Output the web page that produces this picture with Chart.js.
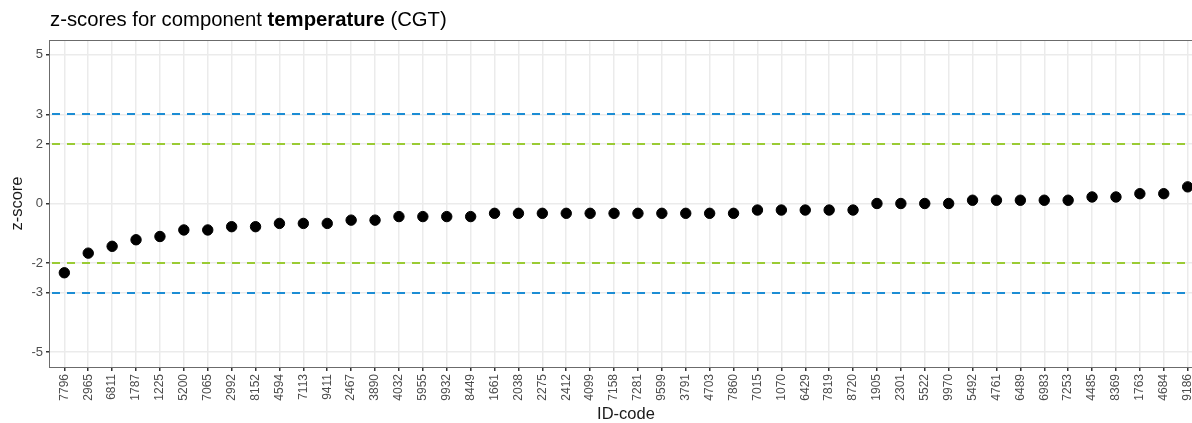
<!DOCTYPE html>
<html>
<head>
<meta charset="utf-8">
<script src="https://cdn.jsdelivr.net/npm/chart.js@4/dist/chart.umd.min.js"></script>
<style>
  html, body { margin: 0; padding: 0; background: #fff; overflow: hidden; }
  #wrap { position: relative; width: 1210px; height: 423px; }
  #title {
    position: absolute; left: 50px; top: 9px; line-height: 20px;
    font-family: "Liberation Sans", Arial, sans-serif; font-size: 20.3px; color: #000;
    white-space: nowrap;
  }
  canvas { position: absolute; left: 0; top: 0; }
</style>
</head>
<body>
<div id="wrap">
  <canvas id="c" width="1210" height="423"></canvas>
  <div id="title">z-scores for component <b>temperature</b> (CGT)</div>
</div>
<script>
// Participant ID codes, sorted by z-score
const idCodes = ["7796","2965","6811","1787","1225","5200","7065","2992","8152","4594",
  "7113","9411","2467","3890","4032","5955","9932","8449","1661","2038",
  "2275","2412","4099","7158","7281","9599","3791","4703","7860","7015",
  "1070","6429","7819","8720","1905","2301","5522","9970","5492","4761",
  "6489","6983","7253","4485","8369","1763","4684","9186"];

// z-score per participant
const zScores = [-2.33,-1.67,-1.44,-1.22,-1.11,-0.89,-0.89,-0.78,-0.78,-0.67,
  -0.67,-0.67,-0.56,-0.56,-0.44,-0.44,-0.44,-0.44,-0.33,-0.33,
  -0.33,-0.33,-0.33,-0.33,-0.33,-0.33,-0.33,-0.33,-0.33,-0.22,
  -0.22,-0.22,-0.22,-0.22,0,0,0,0,0.11,0.11,
  0.11,0.11,0.11,0.22,0.22,0.33,0.33,0.56];

// y-axis breaks
const yTicks = [-5, -3, -2, 0, 2, 3, 5];

// warning (|z| = 2) and action (|z| = 3) limits
const warningLimits = [-2, 2];
const actionLimits = [-3, 3];

const limitLines = {
  id: 'limitLines',
  beforeDatasetsDraw(chart) {
    const { ctx, chartArea: a, scales: { y } } = chart;
    ctx.save();
    ctx.lineWidth = 2;
    ctx.setLineDash([8, 7]);
    const draw = (vals, color) => {
      ctx.strokeStyle = color;
      vals.forEach(v => {
        const py = Math.round(y.getPixelForValue(v));
        ctx.beginPath();
        ctx.moveTo(a.left + 2, py);
        ctx.lineTo(a.right, py);
        ctx.stroke();
      });
    };
    draw(actionLimits, '#1c8dd4');
    draw(warningLimits, '#9acb34');
    ctx.restore();
  }
};

const panelBorder = {
  id: 'panelBorder',
  afterDraw(chart) {
    const { ctx, chartArea: a } = chart;
    ctx.save();
    ctx.strokeStyle = '#6b6b6b';
    ctx.lineWidth = 1;
    ctx.strokeRect(Math.round(a.left) - 0.5, Math.round(a.top) + 0.5,
      Math.round(a.right - a.left), Math.round(a.bottom - a.top));
    ctx.restore();
  }
};

const font = "'Liberation Sans', Arial, sans-serif";

new Chart(document.getElementById('c'), {
  type: 'scatter',
  data: {
    datasets: [{
      data: zScores.map((v, i) => ({ x: i, y: v })),
      backgroundColor: '#000',
      borderColor: '#000',
      pointRadius: 5.2,
      pointHoverRadius: 5.2
    }]
  },
  options: {
    responsive: false,
    animation: false,
    events: [],
    layout: { padding: { top: 40, right: 8, left: 0, bottom: 0 } },
    plugins: { legend: { display: false }, tooltip: { enabled: false }, title: { display: false } },
    scales: {
      x: {
        type: 'linear',
        min: -0.6,
        max: idCodes.length - 1 + 0.6,
        afterBuildTicks(axis) { axis.ticks = idCodes.map((_, i) => ({ value: i })); },
        afterFit(axis) { axis.height = 56; },
        ticks: {
          autoSkip: false,
          minRotation: 90,
          maxRotation: 90,
          padding: 3,
          color: '#4d4d4d',
          font: { family: font, size: 12 },
          callback: (v) => idCodes[v]
        },
        grid: { color: '#ebebeb', lineWidth: 1.5, tickColor: '#333', tickLength: 4, drawTicks: true },
        border: { display: false },
        title: { display: true, text: 'ID-code', color: '#1a1a1a', font: { family: font, size: 16.5, lineHeight: 1.0 }, padding: { top: 0, bottom: 0 } }
      },
      y: {
        min: -5.5,
        max: 5.5,
        afterBuildTicks(axis) { axis.ticks = yTicks.map(v => ({ value: v })); },
        afterFit(axis) { axis.width = 50; },
        ticks: { padding: 3, color: '#4d4d4d', font: { family: font, size: 13 } },
        grid: { color: '#ebebeb', lineWidth: 1.5, tickColor: '#333', tickLength: 4, drawTicks: true },
        border: { display: false },
        title: { display: true, text: 'z-score', color: '#1a1a1a', font: { family: font, size: 16.5 }, padding: { top: 8, bottom: 0 } }
      }
    }
  },
  plugins: [limitLines, panelBorder]
});
</script>
</body>
</html>
